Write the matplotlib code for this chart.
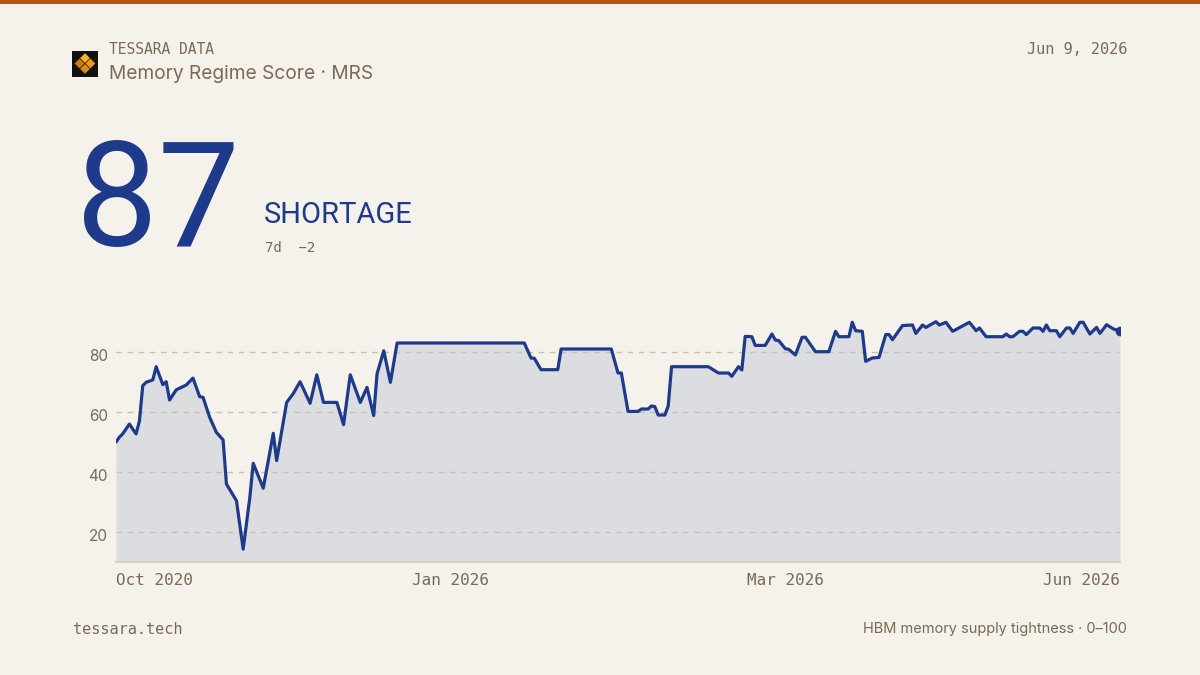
import matplotlib
matplotlib.use("Agg")
import matplotlib.pyplot as plt
from matplotlib.patches import Rectangle, Polygon
from matplotlib.transforms import ScaledTranslation

# ---------------- data ----------------
day = [0, 1, 2, 4, 5, 6, 7, 8, 9, 11, 12, 14, 15, 16, 18, 21, 23, 25, 26, 28,
       30, 32, 33, 36, 38, 40, 41, 44, 47, 48, 51, 53, 55, 58, 60, 62, 66, 68,
       70, 73, 75, 77, 78, 80, 82, 84, 122, 124, 125, 127, 132, 133, 148, 150,
       151, 153, 156, 157, 159, 160, 161, 162, 164, 165, 166, 177, 180, 183,
       184, 186, 187, 188, 190, 191, 194, 196, 197, 198, 200, 201, 203, 205,
       206, 209, 213, 215, 216, 219, 220, 221, 223, 224, 226, 228, 230, 231,
       232, 235, 238, 239, 241, 242, 245, 246, 248, 250, 255, 257, 258, 260,
       265, 266, 267, 268, 270, 271, 272, 274, 276, 277, 278, 279, 281, 282,
       284, 285, 286, 288, 289, 291, 293, 294, 296, 298, 300]
score = [50, 51.6, 52.7, 56, 54.3, 52.7, 57, 68.8, 69.9, 70.7, 75.1, 69.1, 70.1,
         64, 67.4, 69, 71.3, 65.1, 64.9, 58.2, 53.2, 50.7, 36, 30.4, 14.3, 31.6,
         42.9, 34.6, 52.9, 43.8, 63.2, 66.2, 70.1, 62.9, 72.4, 63.2, 63.2, 55.8,
         72.4, 63.2, 68.2, 58.8, 72.7, 80.4, 69.9, 83, 83, 78, 77.9, 74.1, 74.1,
         81, 81, 73, 73, 60.2, 60.2, 61, 61, 62, 61.8, 59, 59, 62, 75.1, 75.1,
         73, 73, 71.9, 75.1, 74, 85.2, 85.1, 82.2, 82.2, 86, 84, 83.8, 81.1,
         80.9, 79, 84.9, 84.9, 80.1, 80.1, 86.9, 85.1, 85.1, 89.9, 87.1, 86.9,
         76.9, 78, 78.2, 85.8, 85.8, 84.1, 88.8, 89, 86.2, 89, 88.2, 90.1, 89,
         89.9, 86.9, 89.9, 87.1, 88, 85.1, 85.1, 86, 85.1, 85.1, 86.9, 86.9,
         85.8, 88, 88, 86.9, 89, 87.1, 87.1, 85.1, 88, 88, 86.2, 89.9, 89.9, 86,
         88.2, 86.2, 89.1, 87.7, 87]
x_tick_pos = [0, 100, 200, 300]
x_tick_labels = ["Oct 2020", "Jan 2026", "Mar 2026", "Jun 2026"]
y_ticks = [20, 40, 60, 80]

current_value = "87"
regime = "SHORTAGE"
change = "7d  \u22122"
brand = "TESSARA DATA"
title = "Memory Regime Score \u00b7 MRS"
date_label = "Jun 9, 2026"
footer_left = "tessara.tech"
footer_right = "HBM memory supply tightness \u00b7 0\u2013100"

# ---------------- style ----------------
BG = "#f5f2eb"
INK = "#7a6a55"
BLUE = "#1e3a8a"
FILL = "#dcdde1"
GRID = "#c9bfae"
MONO = ["DejaVu Sans Mono"]
SANS = ["Inter", "DejaVu Sans"]

W, H = 1200, 675
fig = plt.figure(figsize=(12, 6.75), dpi=100, facecolor=BG)


def fx(px):
    return px / W


def fy(py):
    return 1 - py / H


# top bar
fig.add_artist(Rectangle((0, fy(4)), 1, 4 / H, transform=fig.transFigure,
                         facecolor="#b5530f", edgecolor="none"))

# logo
fig.add_artist(Rectangle((fx(72), fy(77)), 26 / W, 26 / H, transform=fig.transFigure,
                         facecolor="#111111", edgecolor="none"))
cx, cy, s = 85.0, 63.5, 5.4
diamonds = [((0, -1), "#f7b02c"), ((-1, 0), "#d47a0c"),
            ((1, 0), "#eb9a1c"), ((0, 1), "#e08a12")]
for (dx, dy), col in diamonds:
    ccx, ccy = cx + dx * s, cy + dy * s
    r = s - 0.5
    pts = [(ccx, ccy - r), (ccx + r, ccy), (ccx, ccy + r), (ccx - r, ccy)]
    fig.add_artist(Polygon([(fx(a), fy(b)) for a, b in pts], closed=True,
                           transform=fig.transFigure, facecolor=col, edgecolor="none"))

# header texts
fig.text(fx(109), fy(49), brand, family=MONO, fontsize=10.5, color=INK, va="center", ha="left")
fig.text(fx(109), fy(74), title, family=SANS, fontsize=13.8, color=INK, va="center", ha="left")
fig.text(fx(1127), fy(50), date_label, family=MONO, fontsize=11, color=INK, va="center", ha="right")

# big number
fig.text(fx(76), fy(246), current_value, family=["Roboto", "DejaVu Sans"], fontsize=105,
         color=BLUE, va="baseline", ha="left")
fig.text(fx(264), fy(223), regime, family=["Roboto", "DejaVu Sans"], fontsize=21,
         color=BLUE, va="baseline", ha="left")
fig.text(fx(265), fy(252), change, family=MONO, fontsize=10, color=INK, va="baseline", ha="left")

# footer
fig.text(fx(73), fy(630), footer_left, family=MONO, fontsize=11, color=INK, va="center", ha="left")
fig.text(fx(1127), fy(629), footer_right, family=SANS, fontsize=10.5, color=INK,
         va="center", ha="right")

# ---------------- chart ----------------
ax = fig.add_axes([fx(116), fy(562), (1120 - 116) / W, (562 - 292) / H])
ax.set_facecolor(BG)
ax.set_xlim(0, 300)
ax.set_ylim(10, 100)

ax.fill_between(day, score, 10, color=FILL, linewidth=0, zorder=1)
for yv in y_ticks:
    ax.axhline(yv, color=GRID, linewidth=1, linestyle=(0, (4, 4)), zorder=2)
ax.plot(day, score, color=BLUE, linewidth=2.3, solid_joinstyle="round",
        solid_capstyle="round", zorder=3)
ax.plot(day[-1:], score[-1:], "o", color=BLUE, markersize=6, zorder=4)

for side in ["top", "right", "left"]:
    ax.spines[side].set_visible(False)
ax.spines["bottom"].set_color("#dccfb5")
ax.spines["bottom"].set_linewidth(1.5)

ax.set_yticks(y_ticks)
ax.set_yticklabels([str(v) for v in y_ticks], family=SANS, fontsize=11, color=INK)
ax.tick_params(axis="y", length=0, pad=6)
shift = ScaledTranslation(0, -3 / 100, fig.dpi_scale_trans)
for lbl in ax.get_yticklabels():
    lbl.set_transform(lbl.get_transform() + shift)
ax.set_xticks(x_tick_pos)
ax.set_xticklabels(x_tick_labels, family=MONO, fontsize=11.5, color=INK)
ax.tick_params(axis="x", length=0, pad=8)
xl = ax.get_xticklabels()
xl[0].set_ha("left")
xl[-1].set_ha("right")

fig.savefig("out.png", dpi=100, facecolor=BG)
